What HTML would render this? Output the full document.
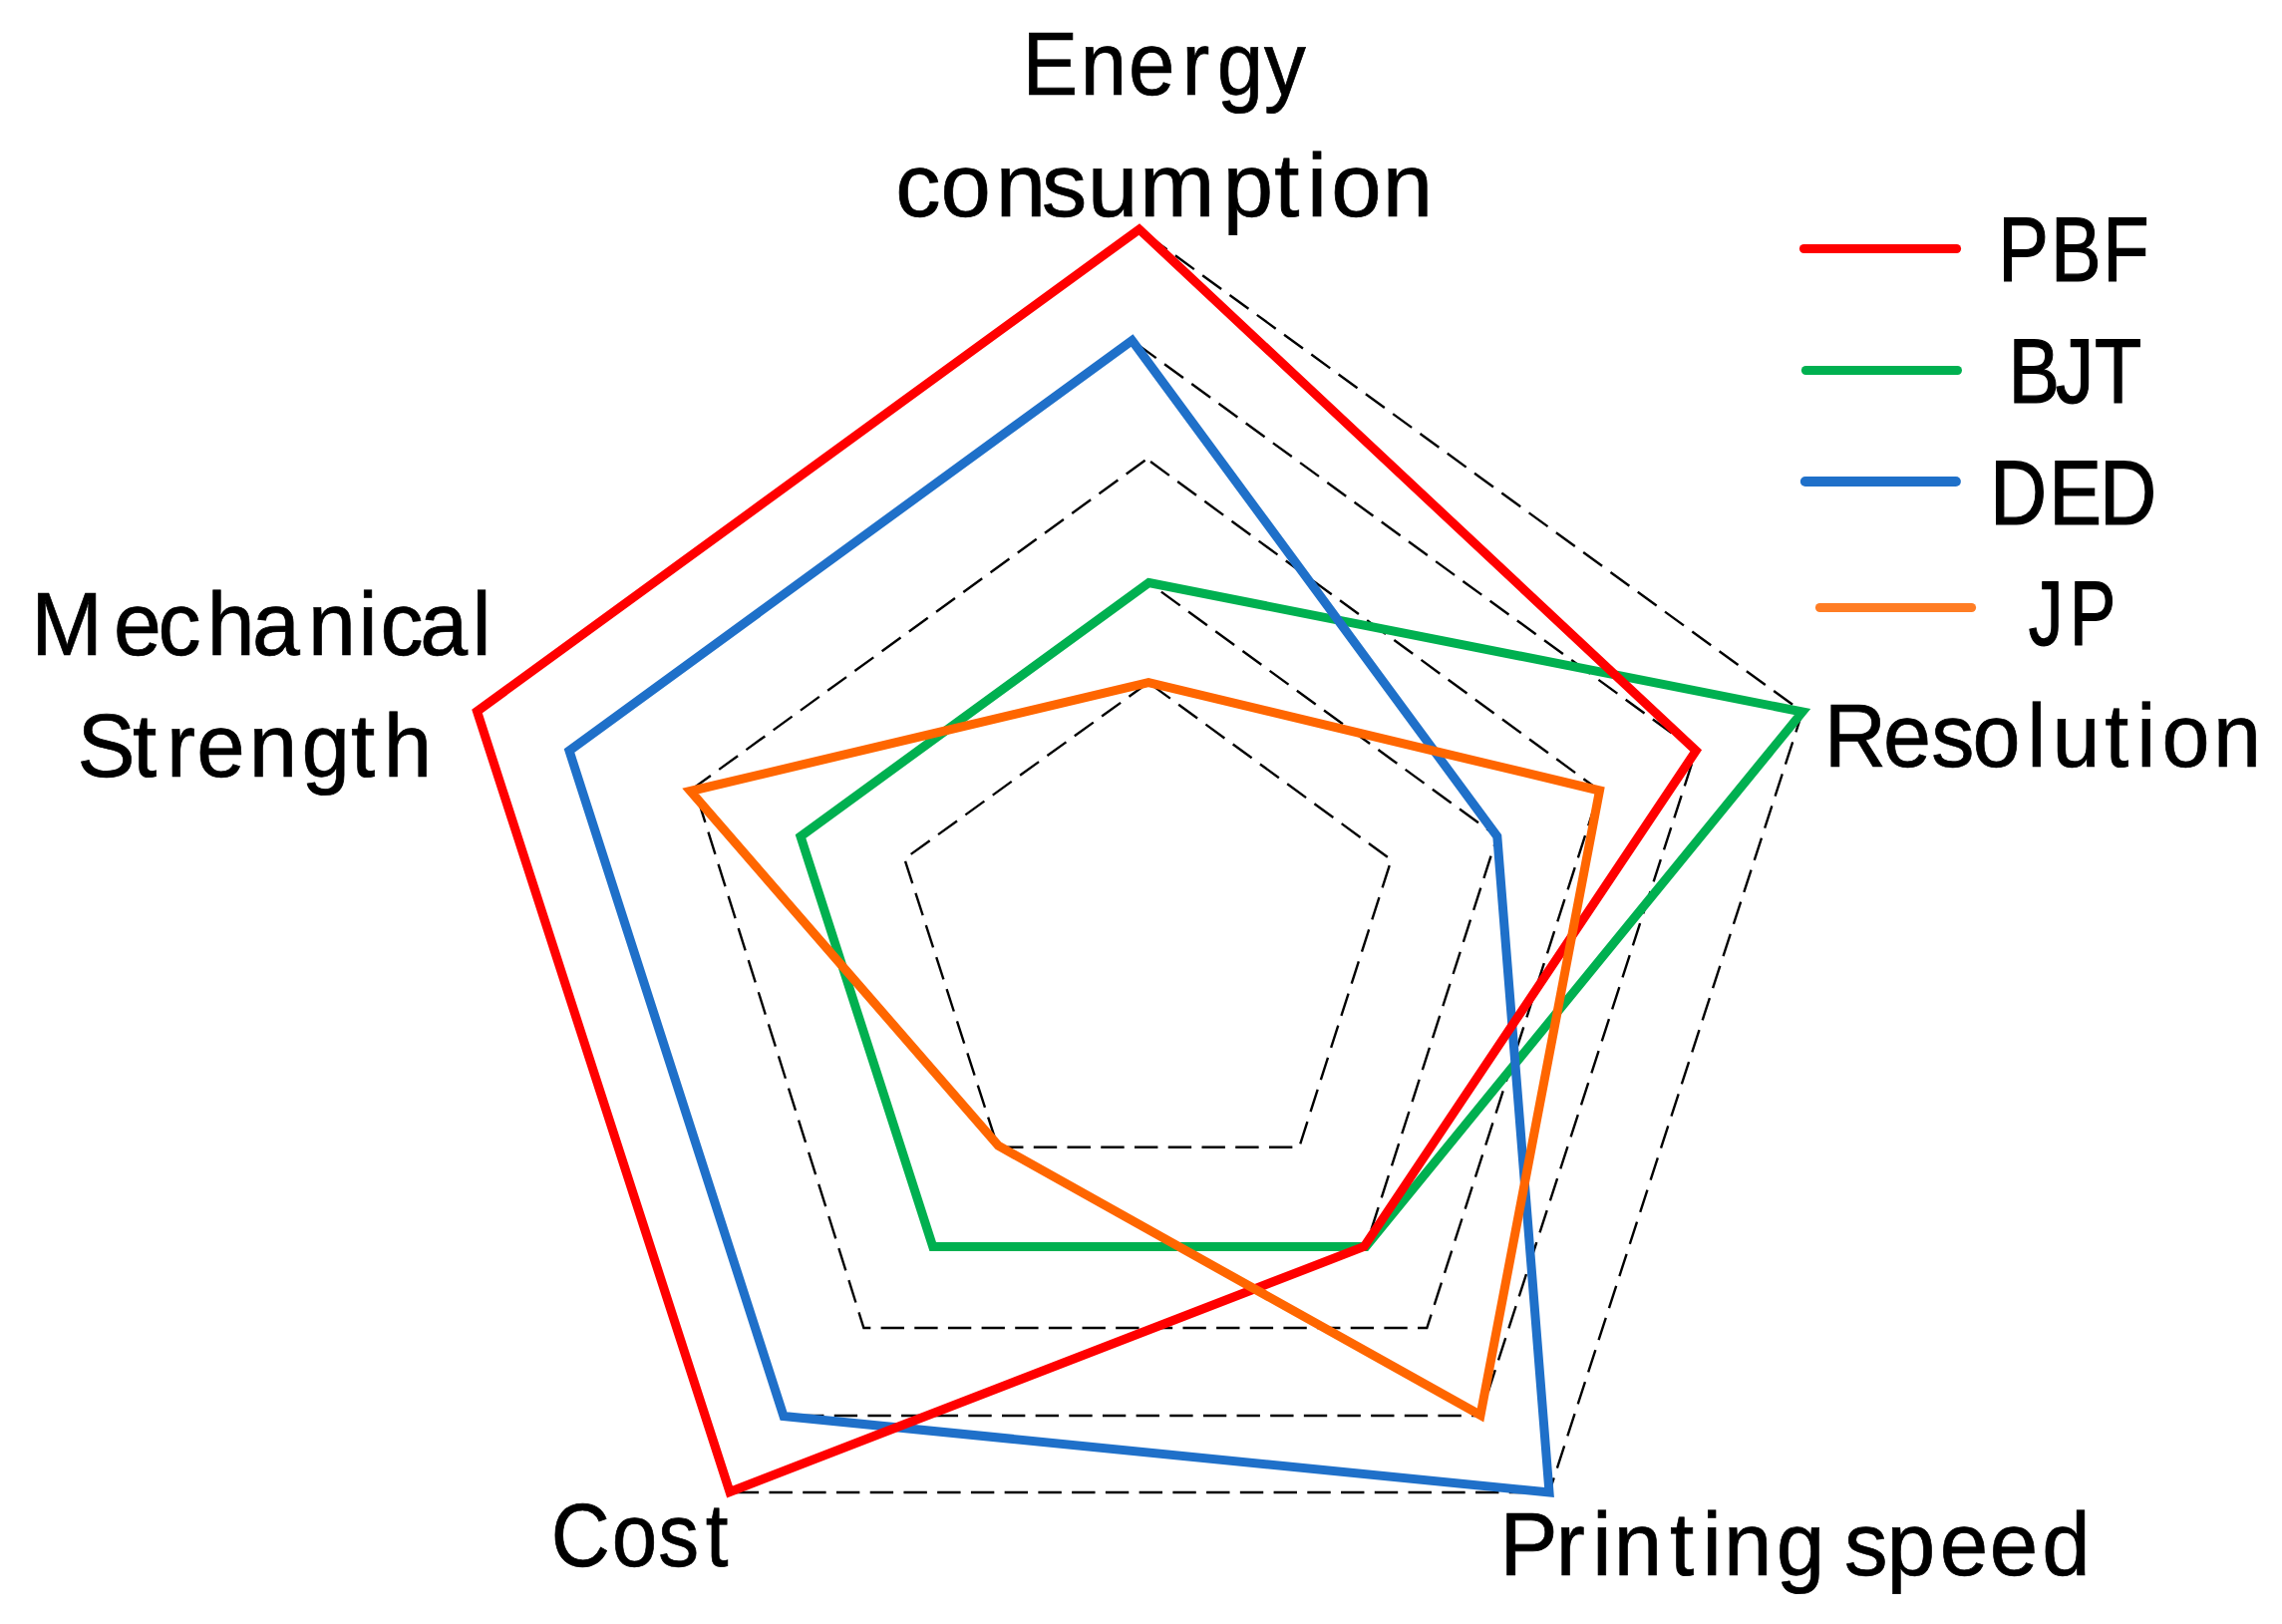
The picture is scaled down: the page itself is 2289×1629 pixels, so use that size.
<!DOCTYPE html>
<html lang="en"><head><meta charset="utf-8"><title>Radar chart</title>
<style>html,body{margin:0;padding:0;background:#fff;}body{width:2289px;height:1629px;overflow:hidden;}svg{display:block;}text{font-family:"Liberation Sans",sans-serif;font-size:100px;fill:#000;text-rendering:geometricPrecision;}</style></head><body>
<svg width="2289" height="1629" viewBox="0 0 2289 1629">
<rect width="2289" height="1629" fill="#fff"/>
<g fill="none" stroke="#000" stroke-width="2.4" stroke-dasharray="23.35 10.3">
<polygon points="1152.0,684.7 1395.5,862.5 1303.2,1150.7 1000.9,1150.7 907.3,861.5" stroke-dasharray="23.41 10.33" stroke-dashoffset="30.1"/>
<polygon points="1152.3,584.5 1501.8,839.0 1370.0,1250.5 935.7,1250.5 803.0,839.0" stroke-dasharray="23.35 10.3" stroke-dashoffset="18.15"/>
<polygon points="1150.4,460.4 1604.5,793.0 1431.3,1332.0 866.4,1332.0 696.4,789.9" stroke-dasharray="23.35 10.3" stroke-dashoffset="29.15"/>
<polygon points="1135.5,341.5 1701.2,753.0 1485.0,1420.0 786.0,1420.0 571.0,753.0" stroke-dasharray="23.35 10.3" stroke-dashoffset="27.05"/>
<polyline points="1142.7,230.0 1808.0,714.0 1554.0,1497.0" stroke-dasharray="23.4 10.34" stroke-dashoffset="22.7"/>
<polyline points="1554.0,1497.0 732.0,1497.0 478.5,713.5 1142.7,230.0" stroke-dasharray="23.4 10.34" stroke-dashoffset="16.9"/>
</g>
<g fill="none" stroke-width="9.0" stroke-linejoin="miter" stroke-miterlimit="10">
<polygon points="1152.3,584.5 1808.0,714.0 1370.0,1250.5 935.7,1250.5 803.0,839.0" stroke="#00B050"/>
<polygon points="1135.5,341.5 1501.8,839.0 1554.0,1497.0 786.0,1420.5 571.0,753.0" stroke="#1F70C9"/>
<polygon points="1142.7,230.0 1701.2,753.0 1368.3,1250.4 732.0,1496.5 478.5,713.5" stroke="#FF0000"/>
<polygon points="1152.0,684.7 1604.5,793.0 1485.0,1419.5 1001.4,1149.3 692.5,793.5" stroke="#FF6600"/>
</g>
<g fill="none" stroke-linecap="round">
<line x1="1809.4" y1="249.5" x2="1962.6" y2="249.5" stroke="#FF0000" stroke-width="9"/>
<line x1="1811.35" y1="371.5" x2="1963.5" y2="371.5" stroke="#00B050" stroke-width="9"/>
<line x1="1810.85" y1="483.0" x2="1961.9" y2="483.0" stroke="#1F70C9" stroke-width="10"/>
<line x1="1825.4" y1="609.5" x2="1977.6" y2="609.5" stroke="#FF7D24" stroke-width="9"/>
</g>
<text transform="scale(0.835 0.9)" x="1228.15 1297.78 1355.58 1419.72 1461.94 1518.63" y="105.22" stroke="#000" stroke-width="0.8">Energy</text>
<text transform="scale(0.905 0.9)" x="992.43 1042.41 1103.50 1154.81 1205.58 1262.94 1355.65 1412.51 1448.53 1475.45 1532.40" y="241.11" stroke="#000" stroke-width="0.8">consumption</text>
<text transform="scale(0.86 0.9)" x="36.25 132.70 184.19 241.68 294.31 359.33 418.04 443.61 489.78 550.44" y="729.78" stroke="#000" stroke-width="0.8">Mechanical</text>
<text transform="scale(0.871 0.9)" x="88.89 152.59 191.71 226.48 286.76 347.31 404.09 441.61" y="865.33" stroke="#000" stroke-width="0.8">Strength</text>
<text transform="scale(0.863 0.9)" x="2120.28 2188.98 2244.82 2292.53 2356.07 2385.33 2446.44 2483.64 2512.75 2572.41" y="854.11" stroke="#000" stroke-width="0.8">Resolution</text>
<text transform="scale(0.817 0.9)" x="676.66 751.20 808.03 866.38" y="1745.56" stroke="#000" stroke-width="0.8">Cost</text>
<text transform="scale(0.871 0.9)" x="1727.36 1791.94 1833.69 1858.51 1923.15 1960.33 1985.04 2045.70 2101.32 2123.98 2172.96 2233.94 2291.29 2351.50" y="1755.22" stroke="#000" stroke-width="0.8">Printing speed</text>
<text transform="scale(0.76 0.92)" x="2637.29 2706.57 2775.32" y="306.41" stroke="#000" stroke-width="1.3">PBF</text>
<text transform="scale(0.772 0.92)" x="2609.55 2670.81 2721.62" y="438.70" stroke="#000" stroke-width="1.3">BJT</text>
<text transform="scale(0.792 0.92)" x="2520.07 2595.06 2659.03" y="571.41" stroke="#000" stroke-width="1.3">DED</text>
<text transform="scale(0.693 0.92)" x="2936.30 2995.78" y="703.04" stroke="#000" stroke-width="1.3">JP</text>
</svg></body></html>
